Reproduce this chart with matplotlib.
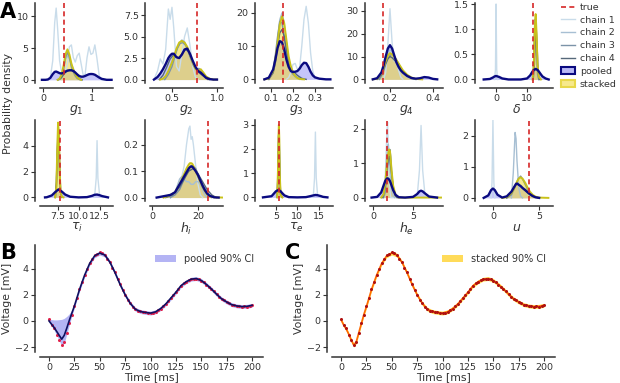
import numpy as np
import matplotlib.pyplot as plt
from matplotlib.lines import Line2D
from matplotlib.patches import Patch

plt.rcParams['font.size'] = 7

# ---- panel A: posterior densities, (x, density) points ----
names = ['g1', 'g2', 'g3', 'g4', 'delta', 'tau_i', 'h_i', 'tau_e', 'h_e', 'u']
labels = [r'$g_1$', r'$g_2$', r'$g_3$', r'$g_4$', r'$\delta$',
          r'$\tau_i$', r'$h_i$', r'$\tau_e$', r'$h_e$', r'$u$']
true_vals = [0.43, 0.78, 0.155, 0.167, 11.8, 7.73, 24.5, 5.7, 1.7, 3.9]

g1_c1 = [(-0.02, 0), (0.1, 0), (0.15, 0.3), (0.2, 3), (0.24, 9), (0.27, 11.3), (0.3, 8), (0.34, 3), (0.38, 1.2),
         (0.42, 0.8), (0.46, 1.2), (0.5, 2.5), (0.54, 5.2), (0.58, 5.5), (0.62, 3.5), (0.66, 2.8), (0.7, 3.8),
         (0.74, 4.2), (0.78, 2.5), (0.82, 0.8), (0.86, 0.8), (0.9, 3.5), (0.94, 5.2), (0.98, 4.0), (1.02, 4.2),
         (1.06, 5.5), (1.1, 3.5), (1.15, 0.6), (1.2, 0), (1.4, 0)]
g1_c2 = [(0.3, 0), (0.38, 0.5), (0.42, 1.8), (0.46, 3.2), (0.5, 3.8), (0.54, 3.3), (0.58, 2.4), (0.62, 1.8),
         (0.66, 1.0), (0.7, 0.4), (0.74, 0.1), (0.8, 0)]
g1_c3 = [(0.32, 0), (0.38, 0.3), (0.42, 1.5), (0.46, 3.5), (0.5, 4.3), (0.54, 3.6), (0.58, 2.0), (0.62, 1.2),
         (0.66, 0.6), (0.7, 0.2), (0.76, 0)]
g1_c4 = [(0.3, 0), (0.34, 0.1), (0.38, 0.4), (0.42, 0.8), (0.46, 1.2), (0.5, 1.4), (0.54, 1.5), (0.58, 1.6),
         (0.62, 1.4), (0.66, 1.0), (0.7, 0.5), (0.74, 0.2), (0.8, 0)]
g1_pool = [(-0.02, 0), (0.05, 0), (0.1, 0.05), (0.15, 0.3), (0.2, 0.9), (0.24, 1.25), (0.27, 1.3), (0.3, 1.2),
           (0.34, 1.05), (0.38, 1.0), (0.42, 1.1), (0.46, 1.3), (0.5, 1.45), (0.54, 1.5), (0.58, 1.5),
           (0.62, 1.4), (0.66, 1.15), (0.7, 0.85), (0.74, 0.6), (0.78, 0.5), (0.82, 0.5), (0.86, 0.6),
           (0.9, 0.75), (0.94, 0.88), (0.98, 0.92), (1.02, 0.9), (1.06, 0.8), (1.1, 0.6), (1.15, 0.35),
           (1.2, 0.15), (1.3, 0), (1.4, 0)]
g1_stack = [(0.3, 0), (0.34, 0.2), (0.38, 0.8), (0.42, 2.2), (0.46, 4.0), (0.5, 4.8), (0.54, 4.0), (0.58, 2.6),
            (0.62, 1.6), (0.66, 0.9), (0.7, 0.4), (0.74, 0.15), (0.78, 0)]

g2_c1 = [(0.3, 0), (0.34, 1.0), (0.37, 2.4), (0.4, 1.8), (0.43, 3.5), (0.46, 8.2), (0.48, 7.0), (0.5, 8.4),
         (0.52, 6.0), (0.55, 1.5), (0.58, 1.0), (0.61, 3.0), (0.64, 5.0), (0.67, 6.0), (0.7, 4.0), (0.73, 1.5),
         (0.76, 0.3), (0.79, 0)]
g2_c2 = [(0.4, 0), (0.43, 0.3), (0.46, 0.8), (0.48, 1.2), (0.5, 1.8), (0.52, 2.5), (0.55, 3.4), (0.58, 4.2),
         (0.61, 4.6), (0.64, 4.4), (0.67, 3.6), (0.7, 2.6), (0.73, 1.8), (0.76, 1.2), (0.79, 1.0), (0.82, 1.1),
         (0.85, 0.7), (0.88, 0.3), (0.92, 0.1), (0.96, 0)]
g2_c3 = [(0.42, 0), (0.46, 0.6), (0.5, 1.5), (0.53, 2.6), (0.56, 3.6), (0.59, 4.2), (0.62, 4.3), (0.65, 4.0),
         (0.68, 3.3), (0.71, 2.4), (0.74, 1.6), (0.77, 1.2), (0.8, 1.3), (0.83, 1.0), (0.87, 0.4), (0.92, 0)]
g2_c4 = [(0.36, 0), (0.4, 0.5), (0.44, 1.4), (0.48, 2.4), (0.52, 2.9), (0.55, 2.6), (0.58, 2.5), (0.61, 3.0),
         (0.65, 3.5), (0.68, 3.3), (0.72, 2.3), (0.76, 1.3), (0.8, 0.8), (0.85, 0.4), (0.9, 0)]
g2_pool = [(0.3, 0), (0.34, 0.3), (0.37, 0.7), (0.4, 1.2), (0.43, 1.8), (0.46, 2.5), (0.48, 2.8), (0.5, 3.0),
           (0.52, 3.0), (0.55, 2.6), (0.58, 2.5), (0.61, 2.9), (0.64, 3.5), (0.67, 3.6), (0.7, 3.0), (0.73, 2.2),
           (0.76, 1.5), (0.79, 1.0), (0.82, 0.8), (0.85, 0.5), (0.88, 0.2), (0.92, 0.05), (0.96, 0), (1.0, 0)]
g2_stack = [(0.37, 0), (0.4, 0.1), (0.43, 0.4), (0.46, 1.0), (0.48, 1.5), (0.5, 2.0), (0.52, 2.6), (0.55, 3.6),
            (0.58, 4.3), (0.61, 4.5), (0.64, 4.3), (0.67, 3.8), (0.7, 2.9), (0.73, 2.0), (0.76, 1.3),
            (0.79, 1.0), (0.82, 1.2), (0.85, 0.8), (0.88, 0.35), (0.92, 0.1), (0.96, 0), (1.0, 0)]

g3_c1 = [(0.17, 0), (0.18, 0.5), (0.19, 2), (0.2, 4.5), (0.21, 4.8), (0.22, 3.0), (0.23, 3.5), (0.24, 10),
         (0.25, 18), (0.26, 22), (0.27, 17), (0.28, 8), (0.29, 2.5), (0.3, 0.5), (0.32, 0)]
g3_c2 = [(0.09, 0), (0.11, 2), (0.12, 6), (0.13, 12), (0.14, 18), (0.15, 20), (0.16, 17), (0.17, 11),
         (0.18, 6), (0.19, 3), (0.2, 1.5), (0.21, 0.6), (0.23, 0)]
g3_c3 = [(0.09, 0), (0.11, 3), (0.12, 7.5), (0.13, 13), (0.14, 17.5), (0.15, 17), (0.16, 13), (0.17, 8),
         (0.18, 4.5), (0.19, 2.5), (0.2, 1.5), (0.22, 0.5), (0.24, 0)]
g3_c4 = [(0.09, 0), (0.11, 2), (0.12, 5), (0.13, 10), (0.14, 14), (0.15, 15), (0.16, 13), (0.17, 9),
         (0.18, 5.5), (0.19, 3.5), (0.2, 2.5), (0.22, 1.2), (0.24, 0.3), (0.26, 0)]
g3_pool = [(0.07, 0), (0.09, 0.5), (0.11, 3), (0.12, 6), (0.13, 9.5), (0.14, 11.5), (0.15, 11.2), (0.16, 9),
           (0.17, 6), (0.18, 3.8), (0.19, 2.5), (0.2, 2.2), (0.21, 2.3), (0.22, 2.5), (0.23, 3.2), (0.24, 4.3),
           (0.25, 5.0), (0.26, 4.9), (0.27, 3.8), (0.28, 2.3), (0.29, 1.2), (0.3, 0.6), (0.32, 0.2), (0.35, 0),
           (0.37, 0)]
g3_stack = [(0.07, 0), (0.09, 0.3), (0.11, 2.5), (0.12, 6), (0.13, 11), (0.14, 16.5), (0.15, 19), (0.16, 17),
            (0.17, 12), (0.18, 7), (0.19, 4), (0.2, 2), (0.21, 1), (0.22, 0.4), (0.23, 0.1), (0.25, 0)]

g4_c1 = [(0.17, 0), (0.18, 3), (0.19, 15), (0.2, 31), (0.21, 16), (0.22, 8), (0.23, 9), (0.24, 4), (0.25, 1),
         (0.26, 0)]
g4_c2 = [(0.15, 0), (0.16, 1.5), (0.17, 4), (0.18, 8), (0.19, 11.5), (0.2, 13), (0.21, 12), (0.22, 9.5),
         (0.23, 7), (0.24, 5), (0.25, 3.5), (0.26, 2.5), (0.28, 1), (0.3, 0.3), (0.32, 0)]
g4_c3 = [(0.15, 0), (0.16, 1.5), (0.17, 3.5), (0.18, 6.5), (0.19, 9), (0.2, 10.5), (0.21, 11), (0.22, 10),
         (0.23, 8.5), (0.24, 7), (0.25, 5), (0.26, 3.5), (0.28, 1.5), (0.3, 0.5), (0.32, 0)]
g4_c4 = [(0.14, 0), (0.16, 2), (0.17, 4.5), (0.18, 7), (0.19, 9), (0.2, 10), (0.21, 9.5), (0.22, 8.5),
         (0.23, 7.5), (0.24, 6), (0.25, 4.5), (0.26, 3.5), (0.28, 1.8), (0.3, 0.6), (0.32, 0)]
g4_pool = [(0.12, 0), (0.14, 0.5), (0.16, 3), (0.17, 6), (0.18, 10), (0.19, 13.5), (0.2, 15), (0.21, 13.5),
           (0.22, 10.5), (0.23, 7.5), (0.24, 5.5), (0.25, 4), (0.26, 3), (0.28, 1.5), (0.3, 0.6), (0.32, 0.3),
           (0.34, 0.5), (0.36, 1.0), (0.38, 0.8), (0.4, 0.2), (0.42, 0)]
g4_stack = [(0.12, 0), (0.14, 0.3), (0.16, 2.5), (0.17, 5), (0.18, 8), (0.19, 10.5), (0.2, 11.5), (0.21, 11),
            (0.22, 10), (0.23, 8.5), (0.24, 7), (0.25, 5.5), (0.26, 4), (0.28, 2), (0.3, 0.8), (0.32, 0.2),
            (0.35, 0)]

delta_c1 = [(-0.5, 0), (-0.2, 0.2), (0, 1.5), (0.2, 0.2), (0.5, 0)]
delta_c2 = [(11.8, 0), (12.2, 0.2), (12.5, 1.1), (12.8, 1.25), (13.1, 0.7), (13.4, 0.2), (13.8, 0)]
delta_c3 = [(11.8, 0), (12.2, 0.35), (12.5, 1.15), (12.7, 1.2), (13.0, 0.6), (13.4, 0.1), (13.8, 0)]
delta_c4 = [(12.0, 0), (12.4, 0.3), (12.7, 0.8), (13.0, 1.0), (13.3, 0.6), (13.6, 0.15), (14.0, 0)]
delta_pool = [(-4, 0), (-2, 0.01), (-1, 0.04), (-0.5, 0.06), (0, 0.07), (0.5, 0.06), (1, 0.05), (2, 0.02),
              (4, 0), (8, 0), (10, 0.02), (11, 0.08), (11.8, 0.16), (12.2, 0.19), (12.5, 0.2), (12.8, 0.21),
              (13.1, 0.2), (13.4, 0.19), (13.8, 0.16), (14.5, 0.1), (15, 0.06), (16, 0.02), (17, 0)]
delta_stack = [(11.8, 0), (12.2, 0.3), (12.5, 1.0), (12.8, 1.3), (13.1, 0.9), (13.4, 0.3), (13.8, 0.05),
               (14.5, 0)]

tau_i_c1 = [(11.9, 0), (12.1, 1.5), (12.2, 4.4), (12.3, 1.5), (12.5, 0.2), (12.8, 0)]
tau_i_c2 = [(7.2, 0), (7.35, 0.9), (7.45, 3.6), (7.55, 5.5), (7.65, 4.6), (7.75, 1.8), (7.85, 0.4), (8.0, 0)]
tau_i_c3 = [(7.25, 0), (7.4, 1.2), (7.5, 3.8), (7.6, 5.2), (7.7, 3.9), (7.8, 1.4), (7.9, 0.3), (8.05, 0)]
tau_i_c4 = [(7.2, 0), (7.35, 1.2), (7.45, 3.5), (7.55, 4.8), (7.65, 3.8), (7.75, 1.5), (7.85, 0.4), (8.0, 0)]
tau_i_pool = [(6.0, 0), (6.2, 0.01), (6.8, 0.15), (7.2, 0.4), (7.6, 0.62), (8.0, 0.45), (8.4, 0.22), (9.0, 0.05),
              (10.0, 0), (11.0, 0.02), (11.6, 0.12), (11.9, 0.2), (12.2, 0.22), (12.5, 0.17), (12.8, 0.1),
              (13.5, 0)]
tau_i_stack = [(7.2, 0), (7.35, 0.8), (7.45, 3.5), (7.55, 5.8), (7.65, 5.0), (7.75, 2.0), (7.85, 0.5),
               (8.0, 0.05), (8.2, 0)]

h_i_c1 = [(8, 0), (10, 0.02), (12, 0.06), (13, 0.08), (14, 0.12), (15, 0.2), (16, 0.26), (16.5, 0.27),
          (17, 0.22), (17.5, 0.23), (18, 0.2), (19, 0.12), (20, 0.05), (21, 0.01), (22, 0)]
h_i_c2 = [(8, 0), (10, 0.02), (12, 0.07), (13, 0.08), (14, 0.07), (15, 0.06), (16, 0.06), (17, 0.05),
          (18, 0.05), (19, 0.06), (20, 0.06), (21, 0.05), (22, 0.03), (23, 0.01), (24, 0)]
h_i_c3 = [(8, 0), (10, 0.01), (12, 0.03), (14, 0.07), (16, 0.11), (17.5, 0.12), (19, 0.11), (20, 0.09),
          (22, 0.05), (24, 0.02), (26, 0)]
h_i_c4 = [(6, 0), (9, 0.01), (12, 0.04), (14, 0.07), (16, 0.1), (18, 0.11), (20, 0.09), (22, 0.06),
          (24, 0.03), (26, 0.01), (28, 0)]
h_i_pool = [(2, 0), (5, 0.005), (8, 0.01), (10, 0.02), (12, 0.05), (13, 0.065), (14, 0.08), (15, 0.095),
            (16, 0.11), (16.5, 0.115), (17, 0.118), (17.5, 0.117), (18, 0.112), (19, 0.1), (20, 0.085),
            (21, 0.065), (22, 0.045), (23, 0.028), (24, 0.015), (25, 0.007), (27, 0.001), (29, 0)]
h_i_stack = [(5, 0), (8, 0.01), (10, 0.02), (12, 0.05), (13, 0.07), (14, 0.09), (15, 0.11), (16, 0.125),
             (16.5, 0.13), (17, 0.13), (17.5, 0.128), (18, 0.12), (19, 0.1), (20, 0.08), (21, 0.06),
             (22, 0.04), (23, 0.025), (24, 0.012), (25, 0.005), (27, 0.001), (31, 0)]

tau_e_c1 = [(13.7, 0), (14.0, 0.8), (14.2, 2.7), (14.4, 0.8), (14.7, 0.1), (15.5, 0)]
tau_e_c2 = [(5.3, 0), (5.5, 1.1), (5.6, 2.4), (5.7, 2.9), (5.8, 2.3), (5.9, 1.0), (6.1, 0.1), (6.5, 0)]
tau_e_c3 = [(5.3, 0), (5.5, 1.3), (5.6, 2.5), (5.7, 2.7), (5.8, 2.0), (5.9, 0.9), (6.1, 0.1), (6.5, 0)]
tau_e_c4 = [(5.3, 0), (5.5, 1.0), (5.6, 2.1), (5.7, 2.6), (5.8, 2.2), (5.9, 1.1), (6.1, 0.15), (6.5, 0)]
tau_e_pool = [(2, 0), (4, 0.05), (5, 0.25), (5.5, 0.3), (5.7, 0.3), (6.1, 0.25), (6.5, 0.17), (7, 0.08),
              (8, 0.01), (10, 0), (12, 0.01), (13, 0.05), (13.7, 0.08), (14.2, 0.1), (14.7, 0.09),
              (15.5, 0.05), (16, 0.02), (17, 0)]
tau_e_stack = [(5.3, 0), (5.5, 1.2), (5.6, 2.5), (5.7, 3.0), (5.8, 2.4), (5.9, 1.0), (6.1, 0.1), (6.5, 0)]

h_e_c1 = [(1.3, 0), (1.5, 0.5), (1.7, 1.8), (1.8, 2.2), (1.9, 1.5), (2.0, 0.7), (2.1, 0.2), (2.2, 0),
          (5.5, 0), (5.8, 0.8), (6.0, 2.1), (6.2, 0.8), (6.5, 0.05), (7, 0)]
h_e_c2 = [(1.1, 0), (1.3, 0.05), (1.5, 0.4), (1.7, 1.2), (1.8, 1.5), (1.9, 1.55), (2.0, 1.3), (2.1, 0.9),
          (2.2, 0.5), (2.3, 0.25), (2.5, 0.05), (2.7, 0)]
h_e_c3 = [(1.3, 0), (1.5, 0.15), (1.7, 0.6), (1.9, 1.1), (2.0, 1.3), (2.1, 1.4), (2.2, 1.2), (2.3, 0.8),
          (2.5, 0.3), (2.8, 0.05), (3.0, 0)]
h_e_c4 = [(1.2, 0), (1.5, 0.3), (1.7, 0.8), (1.9, 1.15), (2.0, 1.2), (2.1, 1.1), (2.3, 0.7), (2.5, 0.3),
          (2.8, 0.05), (3.0, 0)]
h_e_pool = [(-0.2, 0), (0.5, 0.02), (1.0, 0.15), (1.3, 0.35), (1.5, 0.48), (1.7, 0.55), (1.8, 0.56),
            (1.9, 0.55), (2.0, 0.52), (2.1, 0.48), (2.2, 0.42), (2.3, 0.35), (2.5, 0.22), (2.8, 0.08),
            (3.2, 0.01), (4, 0), (5, 0.02), (5.5, 0.1), (5.8, 0.18), (6.0, 0.2), (6.2, 0.18), (6.5, 0.12),
            (7, 0.03), (8, 0)]
h_e_stack = [(1.0, 0), (1.3, 0.1), (1.5, 0.4), (1.7, 0.9), (1.8, 1.15), (1.9, 1.3), (2.0, 1.4), (2.1, 1.35),
             (2.2, 1.1), (2.3, 0.8), (2.5, 0.35), (2.8, 0.08), (3.2, 0), (8.5, 0)]

u_c1 = [(-0.2, 0), (-0.1, 0.5), (0, 2.5), (0.1, 0.5), (0.2, 0)]
u_c2 = [(2.0, 0), (2.2, 0.8), (2.4, 2.1), (2.5, 1.9), (2.6, 1.2), (2.8, 0.3), (3.0, 0.05), (3.2, 0)]
u_c3 = [(1.5, 0), (2.0, 0.1), (2.4, 0.35), (2.7, 0.6), (3.0, 0.7), (3.3, 0.55), (3.7, 0.3), (4.2, 0.08),
        (4.8, 0)]
u_c4 = [(1.5, 0), (2.0, 0.15), (2.3, 0.35), (2.6, 0.46), (2.9, 0.4), (3.3, 0.28), (3.8, 0.15), (4.3, 0.05),
        (5.0, 0)]
u_pool = [(-1, 0), (-0.5, 0.08), (-0.2, 0.25), (0, 0.3), (0.2, 0.25), (0.5, 0.1), (1, 0.01), (1.5, 0.05),
          (2, 0.2), (2.2, 0.3), (2.4, 0.4), (2.5, 0.45), (2.6, 0.46), (2.8, 0.42), (3.0, 0.38), (3.2, 0.32),
          (3.5, 0.25), (3.8, 0.17), (4.0, 0.12), (4.3, 0.06), (4.6, 0.02), (5, 0)]
u_stack = [(1.0, 0), (1.5, 0.03), (2.0, 0.15), (2.2, 0.25), (2.4, 0.38), (2.5, 0.45), (2.6, 0.52), (2.8, 0.62),
           (3.0, 0.66), (3.2, 0.62), (3.5, 0.48), (3.8, 0.3), (4.0, 0.2), (4.3, 0.1), (4.6, 0.04), (5, 0.01),
           (6, 0)]

xlims = [(-0.06, 1.43), (0.256, 1.067), (0.05, 0.382), (0.107, 0.447), (-5.2, 18.4),
         (5.4, 14.1), (-0.9, 30.9), (1.3, 18.3), (-0.4, 8.75), (-1.4, 6.5)]
ylims = [(-0.5, 12.1), (-0.4, 8.9), (-1.1, 23), (-1.6, 33.5), (-0.07, 1.52),
         (-0.28, 6.0), (-0.013, 0.293), (-0.15, 3.2), (-0.1, 2.26), (-0.1, 2.5)]
xticks = [[0, 1], [0.5, 1.0], [0.1, 0.2, 0.3], [0.2, 0.4], [0, 10],
          [7.5, 10.0, 12.5], [0, 20], [5, 10, 15], [0, 5], [0, 5]]
yticks = [[0, 5, 10], [0.0, 2.5, 5.0, 7.5], [0, 10, 20], [0, 10, 20, 30], [0.0, 0.5, 1.0, 1.5],
          [0, 2, 4], [0.0, 0.1, 0.2], [0, 1, 2, 3], [0, 1, 2], [0, 1, 2]]

# ---- panels B / C: voltage traces ----
t_obs = np.arange(0, 200.1, 2.5)
v_obs = [0.12, -0.28, -0.55, -1.05, -1.45, -1.88, -1.62, -0.95, -0.18, 0.45,
         1.12, 1.75, 2.45, 2.95, 3.55, 3.95, 4.45, 4.72, 5.02, 5.12,
         5.25, 5.18, 5.08, 4.78, 4.52, 4.08, 3.72, 3.22, 2.82, 2.38,
         2.02, 1.62, 1.38, 1.08, 0.92, 0.78, 0.77, 0.68, 0.66, 0.6,
         0.58, 0.64, 0.68, 0.82, 0.93, 1.12, 1.28, 1.52, 1.73, 2.02,
         2.18, 2.47, 2.68, 2.87, 2.98, 3.12, 3.18, 3.24, 3.23, 3.22,
         3.08, 2.97, 2.78, 2.62, 2.43, 2.27, 2.03, 1.87, 1.68, 1.57,
         1.43, 1.37, 1.23, 1.22, 1.13, 1.14, 1.08, 1.12, 1.1, 1.17, 1.22]

t_fit = [0, 2.5, 5, 7.5, 10, 12.5, 15, 17.5, 20, 22.5, 25] + list(range(30, 205, 5))
late_mean = [2.4, 3.5, 4.4, 5.0, 5.2, 5.05, 4.5, 3.7, 2.8, 2.0,
             1.35, 0.9, 0.72, 0.65, 0.6, 0.7, 0.95, 1.3, 1.75, 2.2,
             2.7, 3.0, 3.2, 3.25, 3.1, 2.8, 2.45, 2.05, 1.7, 1.45,
             1.25, 1.15, 1.1, 1.12, 1.2]
late_lo = [2.25, 3.35, 4.25, 4.85, 5.05, 4.9, 4.35, 3.55, 2.65, 1.85,
           1.2, 0.75, 0.57, 0.5, 0.45, 0.55, 0.8, 1.15, 1.6, 2.05,
           2.55, 2.85, 3.05, 3.1, 2.95, 2.65, 2.3, 1.9, 1.55, 1.3,
           1.1, 1.0, 0.95, 0.97, 1.05]
late_hi = [2.55, 3.65, 4.55, 5.15, 5.35, 5.2, 4.65, 3.85, 2.95, 2.15,
           1.5, 1.05, 0.87, 0.8, 0.75, 0.85, 1.1, 1.45, 1.9, 2.35,
           2.85, 3.15, 3.35, 3.4, 3.25, 2.95, 2.6, 2.2, 1.85, 1.6,
           1.4, 1.3, 1.25, 1.27, 1.35]
pooled_mean = [0.0, -0.25, -0.5, -0.8, -1.1, -1.4, -1.1, -0.55, 0.05, 0.6, 1.15] + late_mean
pooled_lo = [-0.1, -0.4, -0.7, -1.1, -1.5, -1.9, -1.7, -1.0, -0.3, 0.4, 1.0] + late_lo
pooled_hi = [0.15, 0.1, 0.08, 0.08, 0.1, 0.12, 0.2, 0.35, 0.55, 0.85, 1.3] + late_hi
stacked_mean = [0.1, -0.3, -0.6, -1.0, -1.45, -1.85, -1.6, -0.9, -0.2, 0.5, 1.1] + late_mean
stacked_lo = [-0.02, -0.45, -0.75, -1.15, -1.6, -2.0, -1.75, -1.05, -0.35, 0.35, 0.95] + late_lo
stacked_hi = [0.22, -0.15, -0.45, -0.85, -1.3, -1.7, -1.45, -0.75, -0.05, 0.65, 1.25] + late_hi

# ---- style ----
chain_cols = ['#c9dcea', '#a7bfd3', '#7b93a8', '#56687a']
pool_edge, pool_fill = '#0a0a80', '#6e6ef0'
stack_edge, stack_fill = '#c9c21a', '#f2d833'
true_col = '#d62728'
txt_col = '#333333'
W, H = 620, 383


def style_axes(ax):
    for s in ['top', 'right']:
        ax.spines[s].set_visible(False)
    for s in ['left', 'bottom']:
        ax.spines[s].set_position(('outward', 3.6))
        ax.spines[s].set_color(txt_col)
        ax.spines[s].set_linewidth(1.1)
    ax.tick_params(length=3, width=0.8, color=txt_col, labelcolor=txt_col, labelsize=6.8, pad=1.5)


def xy(pts):
    return [p[0] for p in pts], [p[1] for p in pts]


fig = plt.figure(figsize=(W / 100, H / 100), dpi=100)

for i, name in enumerate(names):
    row, col = divmod(i, 5)
    if row == 0:
        ax = fig.add_axes([(40 + 110 * col) / W, 1 - 83 / H, 73 / W, 80 / H])
    else:
        ax = fig.add_axes([(40 + 110 * col) / W, 1 - 201 / H, 73 / W, 81 / H])
    g = globals()
    px, py = xy(g[name + '_pool'])
    sx, sy = xy(g[name + '_stack'])
    # chains first, so the translucent fills tint them
    for k in range(4):
        cx, cy = xy(g['%s_c%d' % (name, k + 1)])
        ax.plot(cx, cy, color=chain_cols[k], lw=1.0)
    ax.fill_between(px, py, color=pool_fill, alpha=0.4, lw=0)
    ax.fill_between(sx, sy, color=stack_fill, alpha=0.55, lw=0)
    ax.plot(sx, sy, color=stack_edge, lw=1.4)
    ax.plot(px, py, color=pool_edge, lw=1.7)
    ax.axvline(true_vals[i], color=true_col, ls=(0, (3, 2)), lw=1.2)
    ax.set_xlim(xlims[i])
    ax.set_ylim(ylims[i])
    ax.set_xticks(xticks[i])
    ax.set_yticks(yticks[i])
    ax.set_xlabel(labels[i], fontsize=9, labelpad=0, color=txt_col)
    style_axes(ax)

fig.text(0.013, 0.73, 'Probability density', rotation=90, va='center', ha='center', fontsize=7.8, color=txt_col)

handles = [Line2D([], [], color=true_col, ls=(0, (3, 2)), lw=1.2)]
handles += [Line2D([], [], color=c, lw=1.0) for c in chain_cols]
handles += [Patch(facecolor='#b8b8f5', edgecolor=pool_edge, lw=1.5),
            Patch(facecolor='#f7e98c', edgecolor='#e8d84a', lw=1.5)]
fig.legend(handles, ['true', 'chain 1', 'chain 2', 'chain 3', 'chain 4', 'pooled', 'stacked'],
           loc='upper left', bbox_to_anchor=(558 / W, 1.0), frameon=False, fontsize=6.8,
           handlelength=1.5, handletextpad=0.5, labelspacing=0.4, labelcolor=txt_col,
           borderaxespad=0.1, borderpad=0.2)

# B
axb = fig.add_axes([40 / W, 1 - 352 / H, 223 / W, 107 / H])
axb.fill_between(t_fit, pooled_lo, pooled_hi, color='#5a5ae8', alpha=0.45, lw=0, label='pooled 90% CI')
axb.plot(t_obs, v_obs, 'o', color='#e0204a', ms=2.2, mew=0)
axb.plot(t_fit, pooled_mean, color='#101060', lw=1.2)
# C
axc = fig.add_axes([332 / W, 1 - 352 / H, 223 / W, 107 / H])
axc.fill_between(t_fit, stacked_lo, stacked_hi, color='#ffd230', alpha=0.8, lw=0, label='stacked 90% CI')
axc.plot(t_fit, stacked_mean, color='#ff6a00', lw=1.2)
axc.plot(t_obs, v_obs, 'o', color='#b01010', ms=2.2, mew=0)

for ax in [axb, axc]:
    ax.set_xlim(-8.9, 210.8)
    ax.set_ylim(-2.38, 5.82)
    ax.set_xticks(range(0, 201, 25))
    ax.set_yticks([-2, 0, 2, 4])
    ax.set_xlabel('Time [ms]', fontsize=7.8, labelpad=0, color=txt_col)
    ax.set_ylabel('Voltage [mV]', fontsize=7.8, labelpad=2, color=txt_col)
    ax.legend(loc='upper right', frameon=False, fontsize=7, handlelength=2.2, labelcolor=txt_col)
    style_axes(ax)

fig.text(0.0, 0.995, 'A', fontsize=15, fontweight='bold', va='top')
fig.text(0.0, 1 - 243 / H, 'B', fontsize=15, fontweight='bold', va='top')
fig.text(285 / W, 1 - 243 / H, 'C', fontsize=15, fontweight='bold', va='top')

fig.savefig('out.png', dpi=100)
